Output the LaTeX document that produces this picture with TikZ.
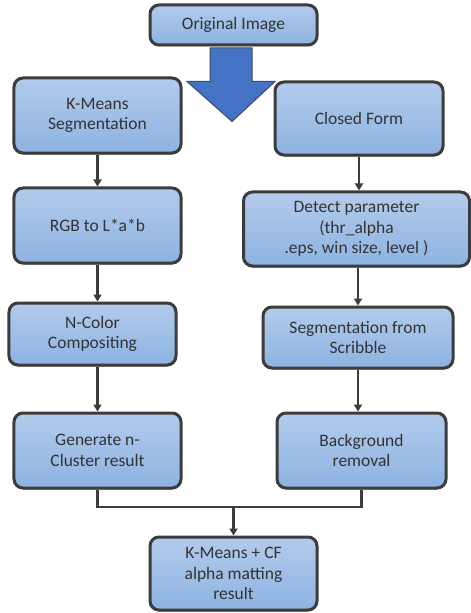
\documentclass[tikz,border=0pt]{standalone}
\usepackage{fontspec}
\setmainfont{Carlito}
\usetikzlibrary{calc,arrows.meta,shadows}
\definecolor{boxtop}{HTML}{B3CBEB}
\definecolor{boxbot}{HTML}{8DB3E2}
\definecolor{edge}{HTML}{3C3C3C}
\definecolor{bigblue}{HTML}{4472C4}
\definecolor{bigedge}{HTML}{3A4A6A}
\tikzset{
  x=1bp, y=-1bp,
  procbox/.style={draw=edge, line width=3bp, rounded corners=9bp,
    top color=boxtop, bottom color=boxbot, align=center,
    font=\fontsize{17.5bp}{20.5bp}\selectfont, text=black!80,
    inner sep=0pt, drop shadow={shadow xshift=0bp, shadow yshift=-1.5bp, opacity=0.6, fill=black!70}},
  flow/.style={draw=edge, line width=2.6bp, -{Triangle[length=7bp,width=8bp]}},
  plain/.style={draw=edge, line width=2.6bp},
  bigarrow/.style={fill=bigblue, draw=bigedge, line width=1bp, line join=miter}
}
\begin{document}
\begin{tikzpicture}
\useasboundingbox (0,0) rectangle (471,613);
\node[procbox, minimum width=167bp, minimum height=40bp] (orig) at (233.5,25) {Original Image};
\node[procbox, minimum width=167bp, minimum height=75bp] (km) at (97.5,115.5) {K-Means\\Segmentation};
\node[procbox, minimum width=168bp, minimum height=73bp] (cf) at (359,118.5) {Closed Form};
\node[procbox, minimum width=167bp, minimum height=75bp] (rgb) at (97.5,225.5) {RGB to L*a*b};
\node[procbox, minimum width=226bp, minimum height=74bp] (det) at (356.5,229) {Detect parameter\\(thr\_alpha\\.eps, win size, level )};
\node[procbox, minimum width=167bp, minimum height=62bp] (ncol) at (92.5,334) {N-Color\\Compositing};
\node[procbox, minimum width=190bp, minimum height=61bp] (seg) at (358,337.5) {Segmentation from\\Scribble};
\node[procbox, minimum width=167bp, minimum height=75bp] (gen) at (97.5,450.5) {Generate n-\\Cluster result};
\node[procbox, minimum width=169bp, minimum height=75bp] (bg) at (361.5,450.5) {Background\\removal};
\node[procbox, minimum width=167bp, minimum height=73bp] (fin) at (233.5,573.5) {K-Means + CF\\alpha matting\\result};
% big arrow
\draw[bigarrow] ($(orig.south)+(-23.5,1.5)$) -- ($(orig.south)+(-23.5,35)$) -- ($(orig.south)+(-46.5,35)$)
  -- ($(orig.south)+(-1.5,75)$) -- ($(orig.south)+(41.5,35)$) -- ($(orig.south)+(18.5,35)$)
  -- ($(orig.south)+(18.5,1.5)$) -- cycle;
% left column
\draw[flow] (km.south) -- (km.south |- rgb.north);
\draw[flow] (rgb.south) -- (rgb.south |- ncol.north);
\draw[flow] (gen.north |- ncol.south) -- (gen.north);
% right column
\draw[flow] (cf.south) -- (cf.south |- det.north);
\draw[flow] (seg.north |- det.south) -- (seg.north);
\draw[flow] (seg.south) -- (seg.south |- bg.north);
% merge
\coordinate (j) at (233.5,507);
\draw[plain] (gen.south) -- (gen.south |- j) -- (bg.south |- j) -- (bg.south);
\draw[flow] (j) -- (fin.north);
\end{tikzpicture}
\end{document}
